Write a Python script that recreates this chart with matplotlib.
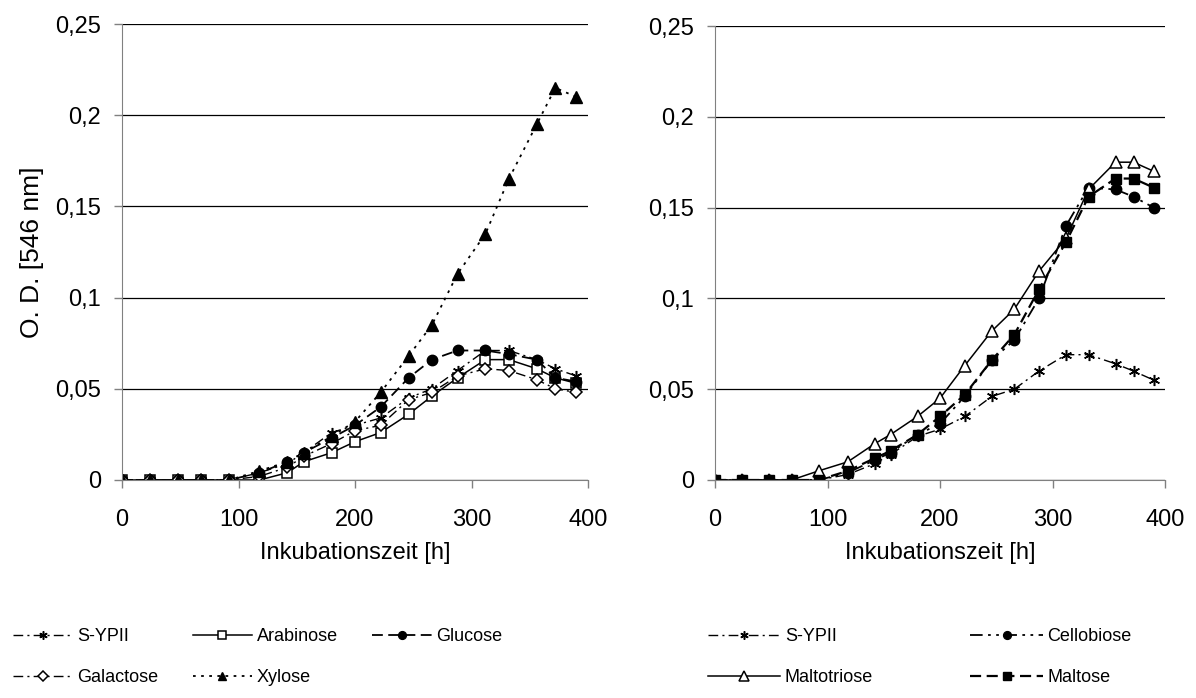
import numpy as np
import matplotlib
matplotlib.use('Agg')
import matplotlib.pyplot as plt

plt.rcParams['font.family'] = ['Liberation Sans', 'DejaVu Sans']

# sampling times [h]
hours = [0, 24, 48, 68, 92, 118, 142, 156, 180, 200, 222, 246, 266, 288, 312, 332, 356, 372, 390]

# left panel
sypii_l = [0, 0, 0, 0, 0, 0.004, 0.009, 0.015, 0.026, 0.030, 0.034, 0.045, 0.050, 0.060, 0.071, 0.071, 0.066, 0.061, 0.057]
arabinose = [0, 0, 0, 0, 0, 0.0, 0.004, 0.010, 0.015, 0.021, 0.026, 0.036, 0.046, 0.056, 0.066, 0.066, 0.061, 0.056, 0.053]
glucose = [0, 0, 0, 0, 0, 0.004, 0.010, 0.015, 0.023, 0.030, 0.040, 0.056, 0.066, 0.071, 0.071, 0.069, 0.066, 0.056, 0.054]
galactose = [0, 0, 0, 0, 0, 0.002, 0.007, 0.013, 0.020, 0.027, 0.030, 0.044, 0.048, 0.057, 0.061, 0.060, 0.055, 0.050, 0.048]
xylose = [0, 0, 0, 0, 0, 0.005, 0.010, 0.015, 0.024, 0.032, 0.048, 0.068, 0.085, 0.113, 0.135, 0.165, 0.195, 0.215, 0.210]

# right panel
sypii_r = [0, 0, 0, 0, 0, 0.003, 0.009, 0.014, 0.024, 0.028, 0.035, 0.046, 0.050, 0.060, 0.069, 0.069, 0.064, 0.060, 0.055]
cellobiose = [0, 0, 0, 0, 0, 0.004, 0.011, 0.015, 0.025, 0.031, 0.046, 0.066, 0.077, 0.100, 0.140, 0.161, 0.160, 0.156, 0.150]
maltotriose = [0, 0, 0, 0, 0.005, 0.010, 0.020, 0.025, 0.035, 0.045, 0.063, 0.082, 0.094, 0.115, 0.133, 0.160, 0.175, 0.175, 0.170]
maltose = [0, 0, 0, 0, 0, 0.005, 0.012, 0.016, 0.025, 0.035, 0.047, 0.066, 0.080, 0.105, 0.131, 0.156, 0.166, 0.166, 0.161]

yticks = [0, 0.05, 0.1, 0.15, 0.2, 0.25]
ytick_labels = ['0', '0,05', '0,1', '0,15', '0,2', '0,25']
xticks = [0, 100, 200, 300, 400]

fs_tick = 17
fs_lab = 17
fs_leg = 13
star = (6, 2, 0)
dashdot = (0, (7, 3, 1.5, 3))
dashdotdot = (0, (7, 3, 1.5, 3, 1.5, 3))

fig = plt.figure(figsize=(11.96, 6.98), dpi=100)
ax1 = fig.add_axes([122/1196, 218/698, 466/1196, 456/698])
ax2 = fig.add_axes([715/1196, 218/698, 450/1196, 454/698])

l_syp, = ax1.plot(hours, sypii_l, color='k', lw=1, ls=dashdot, marker=star, ms=8, mew=1.1, label='S-YPII')
l_ara, = ax1.plot(hours, arabinose, color='k', lw=1.1, ls='-', marker='s', ms=7, mfc='white', mec='k', mew=1.1, label='Arabinose')
l_glu, = ax1.plot(hours, glucose, color='k', lw=1.3, ls=(0, (6, 3)), marker='o', ms=7.5, mfc='k', mec='k', label='Glucose')
l_gal, = ax1.plot(hours, galactose, color='k', lw=1, ls=dashdot, marker='D', ms=6.5, mfc='white', mec='k', mew=1.1, label='Galactose')
l_xyl, = ax1.plot(hours, xylose, color='k', lw=1.3, ls=(0, (1.5, 3)), marker='^', ms=8, mfc='k', mec='k', label='Xylose')

r_syp, = ax2.plot(hours, sypii_r, color='k', lw=1, ls=dashdot, marker=star, ms=8, mew=1.1, label='S-YPII')
r_cel, = ax2.plot(hours, cellobiose, color='k', lw=1.3, ls=dashdotdot, marker='o', ms=7.5, mfc='k', mec='k', label='Cellobiose')
r_mtr, = ax2.plot(hours, maltotriose, color='k', lw=1.1, ls='-', marker='^', ms=9, mfc='white', mec='k', mew=1.1, label='Maltotriose')
r_mal, = ax2.plot(hours, maltose, color='k', lw=1.6, ls=(0, (5, 2.5)), marker='s', ms=7, mfc='k', mec='k', label='Maltose')

for ax in (ax1, ax2):
    ax.set_xlim(0, 400)
    ax.set_ylim(0, 0.25)
    ax.set_xticks(xticks)
    ax.set_yticks(yticks)
    ax.set_yticklabels(ytick_labels)
    ax.spines['top'].set_visible(False)
    ax.spines['right'].set_visible(False)
    ax.spines['left'].set_color('#808080')
    ax.spines['bottom'].set_color('#808080')
    ax.yaxis.grid(True, color='k', lw=0.9)
    ax.set_axisbelow(True)
    ax.tick_params(axis='y', length=6, width=1, color='#808080', pad=9, labelsize=fs_tick)
    ax.tick_params(axis='x', length=6, width=1, color='#808080', pad=15, labelsize=fs_tick)
    ax.set_xlabel('Inkubationszeit [h]', fontsize=fs_lab, labelpad=8)
    for lab in ax.get_xticklabels() + ax.get_yticklabels():
        lab.set_clip_on(False)

ax1.set_ylabel('O. D. [546 nm]', fontsize=19, labelpad=8)

leg_kw = dict(frameon=False, fontsize=fs_leg, loc='upper left',
              handletextpad=0.25, labelspacing=1.35, borderpad=0, borderaxespad=0,
              markerscale=0.75)
# legends fill column by column, so order the handles to read row by row
fig.legend([l_syp, l_gal, l_ara, l_xyl, l_glu],
           ['S-YPII', 'Galactose', 'Arabinose', 'Xylose', 'Glucose'],
           ncol=3, columnspacing=1.9, handlelength=3.3,
           bbox_to_anchor=(13/1196, 1 - 628/698), **leg_kw)
fig.legend([r_syp, r_mtr, r_cel, r_mal],
           ['S-YPII', 'Maltotriose', 'Cellobiose', 'Maltose'],
           ncol=2, columnspacing=5.4, handlelength=4.0,
           bbox_to_anchor=(708/1196, 1 - 628/698), **leg_kw)

fig.savefig('out.png', dpi=100)
